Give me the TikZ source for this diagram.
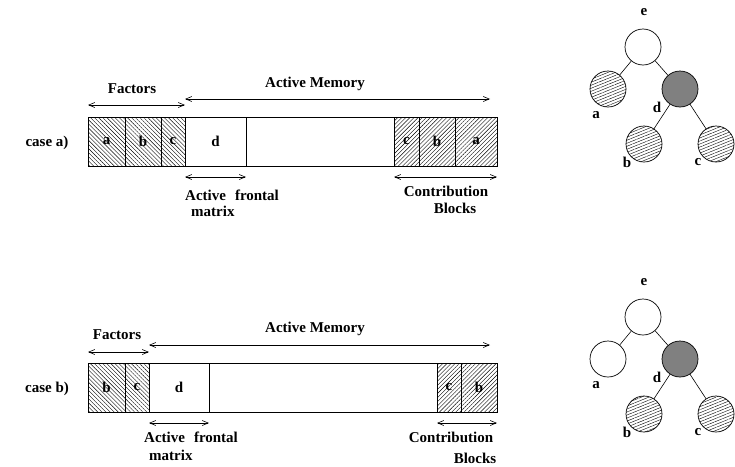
\documentclass[tikz,border=0pt]{standalone}
\usepackage{fontspec}
\setmainfont{Liberation Serif}
\usetikzlibrary{arrows.meta,patterns.meta}

\begin{document}
\begin{tikzpicture}[x=1pt, y=-1pt, font=\fontsize{15}{17}\selectfont\bfseries,
  >={Straight Barb[length=6pt,width=5pt]},
  cell/.style={draw, line width=0.7pt, minimum height=49pt, inner sep=0pt, outer sep=0pt, anchor=north west},
  fcell/.style={cell, pattern={Lines[angle=-45, distance=2.9pt, line width=0.4pt]}},
  ccell/.style={cell, pattern={Lines[angle=45, distance=2.9pt, line width=0.4pt]}},
  tnode/.style={draw, circle, line width=0.7pt, minimum size=36pt, inner sep=0pt},
  hnode/.style={tnode, pattern={Lines[angle=22, distance=2.8pt, line width=0.4pt]}},
  anode/.style={tnode, fill=gray},
  dim/.style={<->, line width=0.6pt}]
\useasboundingbox (0,0) rectangle (735,466);

% case a)
\node (casea) at (47,143) {case a)};
\node[fcell, minimum width=37pt] (a1) at (88,117) {a};
\node[fcell, minimum width=36pt] (b1) at (125,117) {b};
\node[fcell, minimum width=24pt] (c1) at (161,117) {c};
\node[cell, minimum width=61pt] (d1) at (185,117) {d};
\node[cell, minimum width=148pt] (m1) at (246,117) {};
\node[ccell, minimum width=25pt] (cc1) at (394,117) {c};
\node[ccell, minimum width=36pt] (cb1) at (419,117) {b};
\node[ccell, minimum width=42pt] (ca1) at (455,117) {a};

\coordinate (fa1) at (88,105);
\coordinate (fb1) at (185,105);
\coordinate (ma1) at (185,99);
\coordinate (mb1) at (490,99);
\coordinate (ra1) at (185,177);
\coordinate (rb1) at (246,177);
\coordinate (ka1) at (394,177);
\coordinate (kb1) at (497,177);
\draw[dim] (fa1) -- (fb1);
\draw[dim] (ma1) -- (mb1);
\draw[dim] (ra1) -- (rb1);
\draw[dim] (ka1) -- (kb1);
\node (fact1) at (132,89) {Factors};
\node (mem1) at (315,84) {Active Memory};
\node[anchor=west, inner sep=0pt] (act1) at (185,195) {Active\hspace{0.6em}frontal};
\node[anchor=west, inner sep=0pt] (mat1) at (191,211) {matrix};
\node (con1) at (446,191) {Contribution};
\node (blk1) at (455,208) {Blocks};

% tree a)
\node[tnode] (e1) at (643,47) {};
\node[hnode] (ta1) at (608,89) {};
\node[anode] (td1) at (680,89) {};
\node[hnode] (tb1) at (644,144) {};
\node[hnode] (tc1) at (716,144) {};
\draw[line width=0.6pt] (e1) -- (ta1);
\draw[line width=0.6pt] (e1) -- (td1);
\draw[line width=0.6pt] (td1) -- (tb1);
\draw[line width=0.6pt] (td1) -- (tc1);
\node (le1) at (644,12) {e};
\node (la1) at (596,115) {a};
\node (ld1) at (657,107) {d};
\node (lb1) at (627,162) {b};
\node (lc1) at (698,162) {c};

% case b)
\node (caseb) at (47,389) {case b)};
\node[fcell, minimum width=37pt] (b2) at (88,363) {b};
\node[fcell, minimum width=24pt] (c2) at (125,363) {c};
\node[cell, minimum width=60pt] (d2) at (149,363) {d};
\node[cell, minimum width=228pt] (m2) at (209,363) {};
\node[ccell, minimum width=24pt] (cc2) at (437,363) {c};
\node[ccell, minimum width=36pt] (cb2) at (461,363) {b};

\coordinate (fa2) at (88,352);
\coordinate (fb2) at (149,352);
\coordinate (ma2) at (149,345);
\coordinate (mb2) at (490,345);
\coordinate (ra2) at (149,423);
\coordinate (rb2) at (209,423);
\coordinate (ka2) at (437,423);
\coordinate (kb2) at (497,423);
\draw[dim] (fa2) -- (fb2);
\draw[dim] (ma2) -- (mb2);
\draw[dim] (ra2) -- (rb2);
\draw[dim] (ka2) -- (kb2);
\node (fact2) at (117,335) {Factors};
\node (mem2) at (315,329) {Active Memory};
\node[anchor=west, inner sep=0pt] (act2) at (144,437) {Active\hspace{0.6em}frontal};
\node[anchor=west, inner sep=0pt] (mat2) at (149,455) {matrix};
\node (con2) at (451,437) {Contribution};
\node (blk2) at (475,458) {Blocks};

% tree b)
\node[tnode] (e2) at (643,317) {};
\node[tnode] (ta2) at (608,359) {};
\node[anode] (td2) at (680,359) {};
\node[hnode] (tb2) at (644,414) {};
\node[hnode] (tc2) at (716,414) {};
\draw[line width=0.6pt] (e2) -- (ta2);
\draw[line width=0.6pt] (e2) -- (td2);
\draw[line width=0.6pt] (td2) -- (tb2);
\draw[line width=0.6pt] (td2) -- (tc2);
\node (le2) at (644,282) {e};
\node (la2) at (596,385) {a};
\node (ld2) at (657,377) {d};
\node (lb2) at (627,432) {b};
\node (lc2) at (698,432) {c};
\end{tikzpicture}
\end{document}
